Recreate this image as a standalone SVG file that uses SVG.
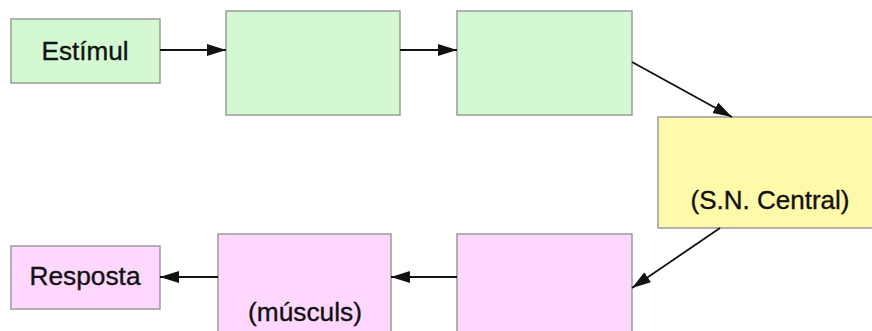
<svg xmlns="http://www.w3.org/2000/svg" width="872" height="331" viewBox="0 0 872 331">
<style>
.box{stroke:#9a9a9a;stroke-width:1.5}
.g{fill:#d4f9d2}
.y{fill:#fffaa9}
.p{fill:#ffd7ff}
.lbl{font-family:"Liberation Sans",Arial,sans-serif;font-size:25px;fill:#111;stroke:#111;stroke-width:0.35;text-anchor:middle}
.edge{stroke:#111;stroke-width:1.8;fill:none;marker-end:url(#ah)}
</style>
<defs>
<marker id="ah" markerUnits="userSpaceOnUse" markerWidth="20" markerHeight="13" refX="19" refY="6" orient="auto">
<path d="M0,0 L19,6 L0,12 z" fill="#111"/>
</marker>
</defs>
<rect width="872" height="331" fill="#fff"/>
<g id="estimul"><rect class="box g" x="11" y="19" width="149" height="64"/><text class="lbl" x="85" y="60" textLength="87" lengthAdjust="spacingAndGlyphs">Estímul</text></g>
<g id="receptor"><rect class="box g" x="226" y="11" width="174" height="104"/></g>
<g id="via-sensitiva"><rect class="box g" x="457" y="11" width="175" height="104"/></g>
<g id="snc"><rect class="box y" x="658" y="117" width="216" height="111"/><text class="lbl" x="770" y="209" textLength="159" lengthAdjust="spacingAndGlyphs">(S.N. Central)</text></g>
<g id="via-motora"><rect class="box p" x="457" y="234" width="175" height="100"/></g>
<g id="efector"><rect class="box p" x="218" y="234" width="173" height="100"/><text class="lbl" x="305" y="321" textLength="114" lengthAdjust="spacingAndGlyphs">(músculs)</text></g>
<g id="resposta"><rect class="box p" x="11" y="246" width="149" height="63"/><text class="lbl" x="85" y="285" textLength="111" lengthAdjust="spacingAndGlyphs">Resposta</text></g>
<g id="connectors">
<line class="edge" x1="160" y1="50" x2="226" y2="50"/>
<line class="edge" x1="400" y1="50" x2="457" y2="50"/>
<line class="edge" x1="632" y1="62" x2="732" y2="117"/>
<line class="edge" x1="720" y1="228" x2="632" y2="288"/>
<line class="edge" x1="457" y1="277" x2="391" y2="277"/>
<line class="edge" x1="218" y1="277" x2="160" y2="277"/>
</g>
</svg>
